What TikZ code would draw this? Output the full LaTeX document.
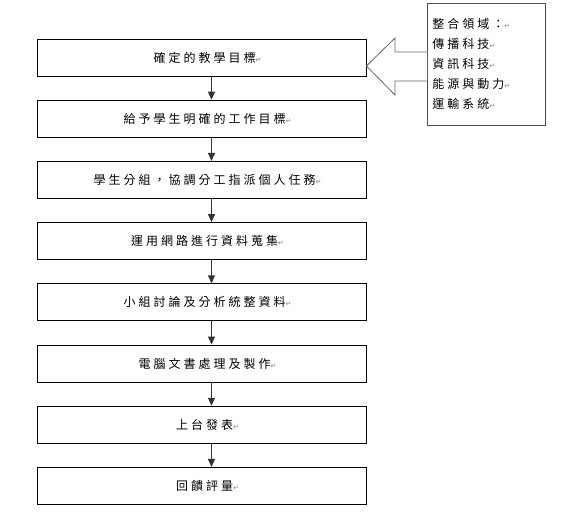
\documentclass[tikz,border=0pt]{standalone}
\usepackage{fontspec}
\usetikzlibrary{arrows.meta}
\newfontfamily\cjk[LetterSpace=25]{Noto Sans CJK TC}
\newfontfamily\symf{DejaVu Sans}
\newcommand\retmk{{\symf\fontsize{7}{7}\selectfont\textcolor{gray}{↵}}}
\tikzset{
  stepbox/.style={draw=black, line width=0.9pt, minimum width=329pt, minimum height=37pt,
    inner sep=0pt, font=\cjk\fontsize{12}{13}\selectfont},
  flow/.style={draw=black!80, line width=0.9pt, -{Triangle[length=8pt,width=7pt]}},
  sidebox/.style={draw=black!70, line width=0.8pt, minimum width=118pt, minimum height=122pt,
    text width=108pt, align=left, inner sep=5pt, font=\cjk\fontsize{12}{20}\selectfont},
  blockarrow/.style={draw=black!60, line width=0.8pt, fill=white}
}
\begin{document}
\begin{tikzpicture}[x=1pt,y=-1pt]
\useasboundingbox (0,0) rectangle (563,519);
\node[stepbox] (b1) at (201.5,57.5) {\hspace*{12pt}確定的教學目標\retmk};
\node[stepbox] (b2) at (201.5,118.7) {\hspace*{12pt}給予學生明確的工作目標\retmk};
\node[stepbox] (b3) at (201.5,179.9) {\hspace*{12pt}學生分組，協調分工指派個人任務\retmk};
\node[stepbox] (b4) at (201.5,241.1) {\hspace*{12pt}運用網路進行資料蒐集\retmk};
\node[stepbox] (b5) at (201.5,302.3) {\hspace*{12pt}小組討論及分析統整資料\retmk};
\node[stepbox] (b6) at (201.5,363.5) {\hspace*{12pt}電腦文書處理及製作\retmk};
\node[stepbox] (b7) at (201.5,424.7) {\hspace*{12pt}上台發表\retmk};
\node[stepbox] (b8) at (201.5,485.9) {\hspace*{12pt}回饋評量\retmk};
\foreach \a/\b in {b1/b2,b2/b3,b3/b4,b4/b5,b5/b6,b6/b7,b7/b8}
  \draw[flow] ([xshift=10pt]\a.south) -- ([xshift=10pt]\b.north);
\node[sidebox, anchor=north west] (r) at (427,3) {整合領域：\retmk\\傳播科技\retmk\\資訊科技\retmk\\能源與動力\retmk\\運輸系統\retmk};
\draw[blockarrow] (r.west |- 0,52) -- (395,52) -- (395,38) -- (b1.east |- 0,66) -- (395,95) -- (395,81) -- (r.west |- 0,81);
\end{tikzpicture}
\end{document}
